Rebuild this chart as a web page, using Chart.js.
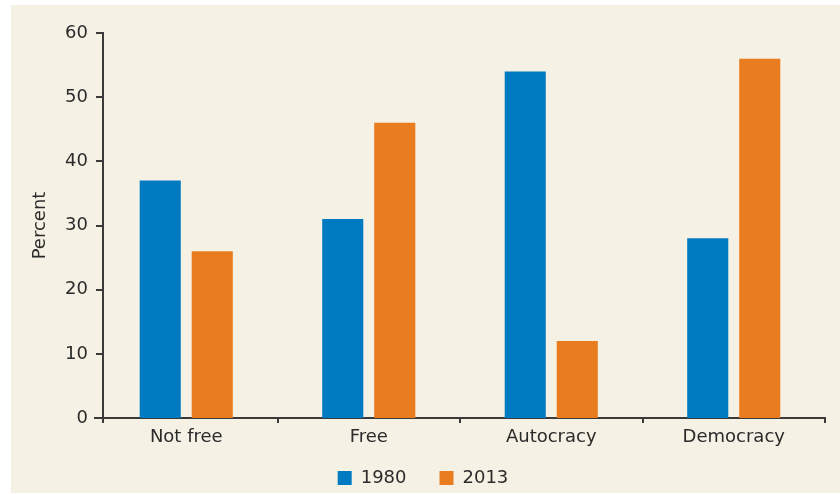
<!DOCTYPE html>
<html><head><meta charset="utf-8">
<script src="https://cdn.jsdelivr.net/npm/chart.js@4"></script>
<style>
html,body{margin:0;padding:0;background:#fff;overflow:hidden;width:840px;height:494px;}
#bg{position:absolute;left:11px;top:5px;width:829px;height:488px;background:#f5f1e4;}
#c{position:absolute;left:11px;top:5px;}
</style></head><body>
<div id="bg"></div>
<canvas id="c" width="829" height="492"></canvas>
<script>
const categories = ['Not free', 'Free', 'Autocracy', 'Democracy'];
const series1980 = [37, 31, 54, 28];
const series2013 = [26, 46, 12, 56];
const seriesLabels = ['1980', '2013'];
const yTicks = [0, 10, 20, 30, 40, 50, 60];

const AXIS = '#3a3a3a';
const TEXT = '#2b2b2b';
const FONT = {family: 'DejaVu Sans', size: 18};

const yAxisLine = {
  id: 'yAxisLine',
  afterLayout(chart) {
    chart.scales.x.bottom = chart.height;
    chart.legend.left += 5;
    chart.legend.right += 5;
  },
  afterDraw(chart) {
    const y = chart.scales.y, ctx = chart.ctx;
    const x = chart.chartArea.left + 8;
    ctx.save();
    ctx.strokeStyle = AXIS;
    ctx.lineWidth = 2;
    ctx.beginPath();
    ctx.moveTo(x, y.getPixelForValue(yTicks[yTicks.length - 1]) - 1);
    ctx.lineTo(x, chart.chartArea.bottom + 5);
    ctx.stroke();
    y.ticks.forEach(t => {
      const py = Math.round(y.getPixelForValue(t.value));
      ctx.beginPath();
      ctx.moveTo(x - 7, py);
      ctx.lineTo(x, py);
      ctx.stroke();
    });
    ctx.restore();
  }
};

new Chart(document.getElementById('c'), {
  type: 'bar',
  data: {
    labels: categories,
    datasets: [
      {label: seriesLabels[0], data: series1980, backgroundColor: '#007bc2', borderWidth: 0},
      {label: seriesLabels[1], data: series2013, backgroundColor: '#e97c1e', borderWidth: 0}
    ]
  },
  options: {
    responsive: false,
    animation: false,
    devicePixelRatio: 1,
    categoryPercentage: 0.57,
    barPercentage: 0.79,
    layout: {padding: {top: 28, right: 15, left: 0, bottom: 0}},
    plugins: {
      tooltip: {enabled: false},
      legend: {
        position: 'bottom',
        labels: {font: FONT, color: TEXT, boxWidth: 14, boxHeight: 14, padding: 33}
      }
    },
    scales: {
      x: {
        grid: {
          display: true, drawOnChartArea: false, drawTicks: true, tickLength: 5, offset: true,
          lineWidth: 2,
          color: (c) => c.index === 0 ? 'rgba(0,0,0,0)' : AXIS
        },
        border: {display: true, color: AXIS, width: 2},
        ticks: {font: FONT, color: TEXT, padding: 4, maxRotation: 0},
        afterFit: (s) => { s.height = 18; }
      },
      y: {
        min: 0, max: 60,
        afterBuildTicks: (s) => { s.ticks = yTicks.map(v => ({value: v})); },
        grid: {display: false, drawTicks: false},
        border: {display: false},
        ticks: {font: FONT, color: TEXT, padding: 7},
        title: {display: true, text: 'Percent', font: FONT, color: TEXT, padding: {top: 19, bottom: 0}},
        afterFit: (s) => { s.width = 84; }
      }
    }
  },
  plugins: [yAxisLine]
});
</script>
</body></html>
